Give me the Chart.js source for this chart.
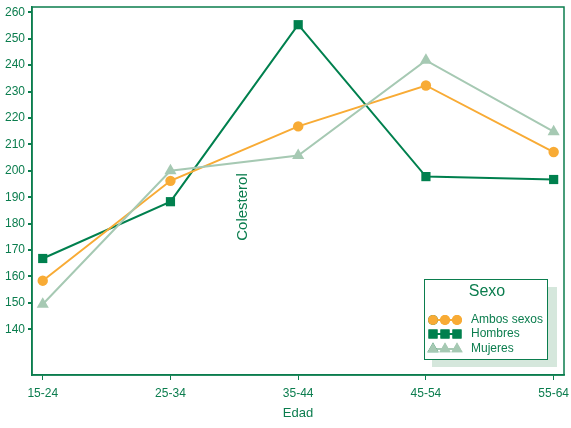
<!DOCTYPE html>
<html><head><meta charset="utf-8">
<script src="https://cdn.jsdelivr.net/npm/chart.js@4/dist/chart.umd.min.js"></script>
<style>html,body{margin:0;padding:0;background:#fff}#wrap{width:571px;height:428px}</style>
</head><body><div id="wrap"><canvas id="c" width="571" height="428"></canvas></div>
<script>
const categories = ["15-24","25-34","35-44","45-54","55-64"];
const ambosSexos = [158.4, 196.2, 216.8, 232.3, 207.1];
const hombres = [166.8, 188.3, 255.3, 197.8, 196.7];
const mujeres = [149.5, 200.0, 205.8, 241.8, 214.8];
const yTicks = [140,150,160,170,180,190,200,210,220,230,240,250,260];
const seriesNames = ["Ambos sexos","Hombres","Mujeres"];

const GREEN = '#0b7d4e';
const C_AMBOS = '#f8ab35';
const C_HOM = '#00804e';
const C_MUJ = '#a6c9b3';
const FONT = '"Liberation Sans", Arial, sans-serif';

const toXY = arr => arr.map((v,i)=>({x:i,y:v}));

const deco = {
  id:'deco',
  beforeDatasetsDraw(chart){
    const ctx = chart.ctx, a = chart.chartArea;
    ctx.save();
    ctx.strokeStyle = GREEN; ctx.lineWidth = 1.5;
    ctx.strokeRect(a.left, a.top, a.right - a.left, a.bottom - a.top);
    ctx.fillStyle = GREEN;
    ctx.font = '15px ' + FONT;
    ctx.translate(243, 207);
    ctx.rotate(-Math.PI/2);
    ctx.textAlign='center'; ctx.textBaseline='middle';
    ctx.fillText('Colesterol', 0, 0);
    ctx.restore();
  },
  afterDatasetsDraw(chart){
    const ctx = chart.ctx;
    ctx.save();
    ctx.fillStyle = '#d5e7dc';
    ctx.fillRect(432, 287, 125, 80);
    ctx.fillStyle = '#fff';
    ctx.fillRect(424.5, 279.5, 123, 80);
    ctx.strokeStyle = GREEN; ctx.lineWidth = 1;
    ctx.strokeRect(424.5, 279.5, 123, 80);
    ctx.fillStyle = GREEN;
    ctx.font = '16px ' + FONT;
    ctx.textAlign='center'; ctx.textBaseline='middle';
    ctx.fillText('Sexo', 487, 292);
    const ys = [320, 334, 349];
    const styles = ['circle','rect','triangle'];
    const cols = [C_AMBOS, C_HOM, C_MUJ];
    const rads = [5, 6.4, 6.5];
    ctx.font = '12px ' + FONT;
    ctx.textAlign='left';
    for (let k=0;k<3;k++){
      ctx.strokeStyle = cols[k]; ctx.lineWidth = 2;
      ctx.beginPath(); ctx.moveTo(433, ys[k]); ctx.lineTo(457, ys[k]); ctx.stroke();
      for (const px of [433,445,457]){
        Chart.helpers.drawPoint(ctx, {pointStyle:styles[k], radius:rads[k], rotation:0, borderWidth:0}, px, ys[k]);
        ctx.fillStyle = cols[k]; ctx.fill();
      }
      ctx.fillStyle = GREEN;
      ctx.fillText(seriesNames[k], 471, ys[k]);
    }
    ctx.restore();
  }
};

const mk = (label, data, color, style, r) => ({
  label, data: toXY(data), borderColor: color, backgroundColor: color,
  pointStyle: style, pointRadius: r, pointHoverRadius: r, borderWidth: 2,
  pointBorderWidth: 0, tension: 0, fill:false
});

new Chart(document.getElementById('c'), {
  type:'line',
  data:{ datasets:[
    mk(seriesNames[2], mujeres, C_MUJ, 'triangle', 7),
    mk(seriesNames[0], ambosSexos, C_AMBOS, 'circle', 5.2),
    mk(seriesNames[1], hombres, C_HOM, 'rect', 6.5)
  ]},
  options:{
    responsive:false, animation:false,
    layout:{padding:{top:4.7, right:6, left:0, bottom:7}},
    plugins:{legend:{display:false}, tooltip:{enabled:false}},
    scales:{
      x:{ type:'linear', min:-0.084, max:4.081,
        afterBuildTicks: s => { s.ticks = categories.map((c,i)=>({value:i})); },
        afterFit: s => { s.height = 46; s.paddingLeft = 0; s.paddingRight = 0; },
        ticks:{ color:GREEN, font:{family:FONT, size:12}, padding:6, maxRotation:0, autoSkip:false,
          callback: v => categories[v] },
        grid:{ drawOnChartArea:false, color:GREEN, tickLength:5, tickColor:GREEN },
        border:{ color:GREEN, width:1.5 },
        title:{ display:true, text:'Edad', color:GREEN, font:{family:FONT, size:13}, padding:{top:4,bottom:0} }
      },
      y:{ min:122.7, max:262,
        afterBuildTicks: s => { s.ticks = yTicks.map(v=>({value:v})); },
        afterFit: s => { s.width = 32; s.paddingTop = 0; s.paddingBottom = 0; },
        ticks:{ color:GREEN, font:{family:FONT, size:12}, padding:3 },
        grid:{ drawOnChartArea:false, color:GREEN, tickLength:4, tickColor:GREEN, lineWidth:2 },
        border:{ color:GREEN, width:1.5 }
      }
    }
  },
  plugins:[deco]
});
</script></body></html>
